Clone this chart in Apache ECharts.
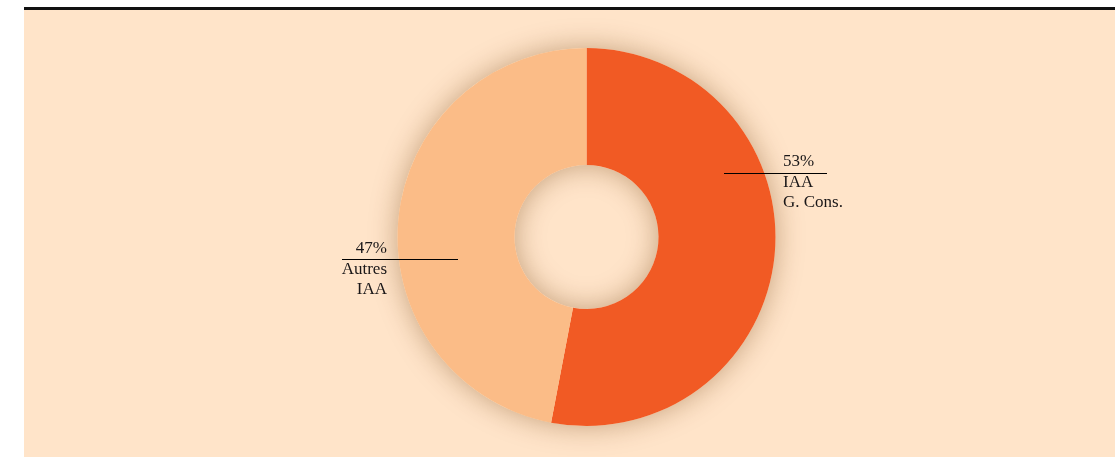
<!DOCTYPE html>
<html>
<head>
<meta charset="utf-8">
<script src="https://cdn.jsdelivr.net/npm/echarts@6/dist/echarts.min.js"></script>
<style>
  html, body { margin: 0; padding: 0; background: #ffffff; }
  #chart { width: 1115px; height: 457px; }
</style>
</head>
<body>
<div id="chart"></div>
<script>
// données
var categories = ['IAA\nG. Cons.', 'Autres\nIAA'];
var shares = [53, 47];
var colors = ['#F15A24', '#FBBC87'];

// position des étiquettes (x, y haut du bloc, alignement, extrémités du trait)
var labelPos = [
    {x: 783, y: 151, align: 'left', line: [[724, 173.5], [827, 173.5]]},
    {x: 387, y: 238, align: 'right', line: [[342, 259.5], [458, 259.5]]}
];

var myChart = echarts.init(document.getElementById('chart'));

var pieData = categories.map(function (c, i) {
    return {name: c, value: shares[i], itemStyle: {color: colors[i]}};
});

var option = {
    backgroundColor: '#ffffff',
    animation: false,
    graphic: [
        {type: 'rect', shape: {x: 24, y: 10, width: 1091, height: 447}, style: {fill: '#FFE4C9'}, z: -10},
        {type: 'rect', shape: {x: 24, y: 7, width: 1091, height: 3}, style: {fill: '#111111'}, z: -10}
    ],
    series: [{
        // anneau d'ombre
        type: 'pie',
        silent: true,
        center: [586.5, 237],
        radius: [72, 189],
        label: {show: false},
        itemStyle: {
            color: '#FFE4C9',
            shadowBlur: 28,
            shadowColor: 'rgba(110, 60, 10, 0.4)'
        },
        data: [{value: 1}],
        z: 1
    }, {
        type: 'pie',
        center: [586.5, 237],
        radius: [72, 189],
        startAngle: 90,
        clockwise: true,
        z: 2,
        label: {show: false},
        labelLine: {show: false},
        data: pieData
    }, {
        // étiquettes au-dessus
        type: 'pie',
        silent: true,
        center: [586.5, 237],
        radius: [72, 189],
        startAngle: 90,
        clockwise: true,
        z: 3,
        itemStyle: {color: 'rgba(0,0,0,0)'},
        data: categories.map(function (c, i) {
            return {name: c, value: shares[i]};
        }),
        label: {
            show: true,
            position: 'outside',
            fontFamily: 'Liberation Serif',
            color: '#1a1718',
            formatter: function (p) {
                return '{p|' + p.value + '%}\n{n|' + p.name.split('\n').join('}\n{n|') + '}';
            },
            rich: {
                p: {fontSize: 17, lineHeight: 22, fontFamily: 'Liberation Serif', color: '#1a1718'},
                n: {fontSize: 17, lineHeight: 20, fontFamily: 'Liberation Serif', color: '#1a1718'}
            }
        },
        labelLine: {
            show: true,
            lineStyle: {color: '#000000', width: 1, opacity: 1}
        },
        labelLayout: function (params) {
            var lp = labelPos[params.dataIndex];
            return {
                x: lp.x,
                y: lp.y,
                align: lp.align,
                verticalAlign: 'top',
                labelLinePoints: lp.line
            };
        }
    }]
};

if (option && typeof option === "object") {
    myChart.setOption(option, true);
}
</script>
</body>
</html>
